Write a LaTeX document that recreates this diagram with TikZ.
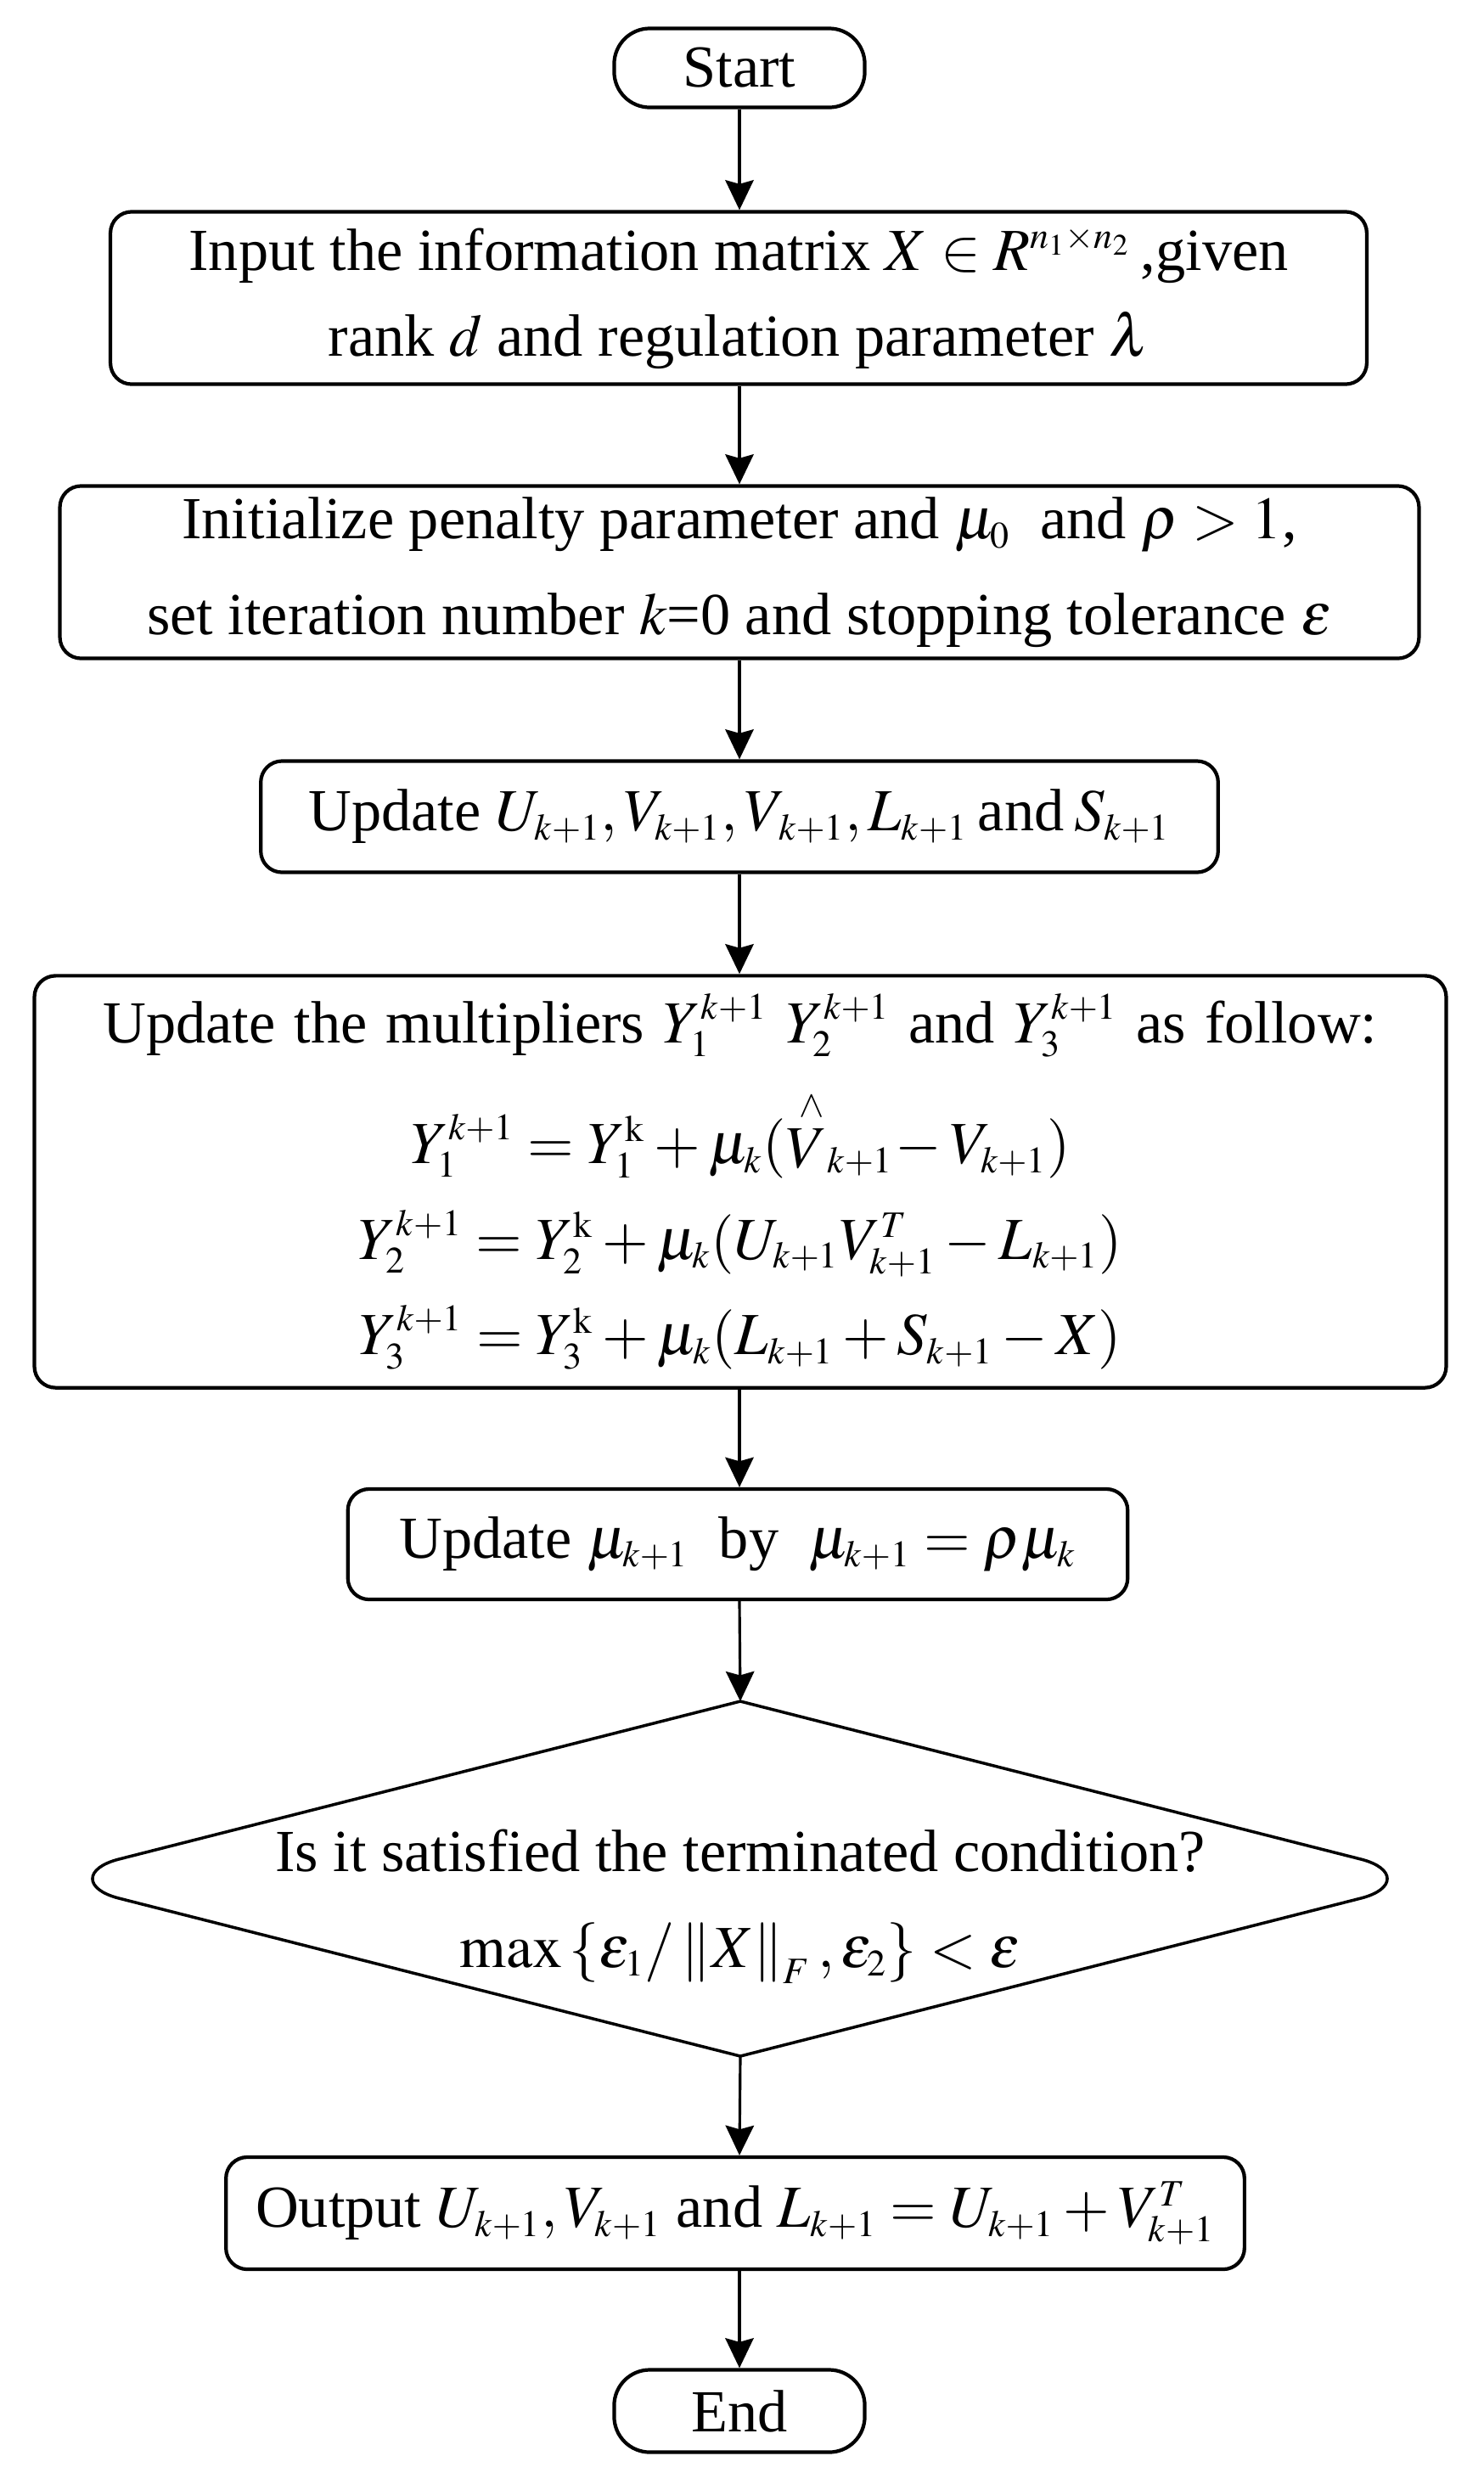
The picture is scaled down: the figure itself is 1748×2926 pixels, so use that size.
\documentclass[tikz,border=0pt]{standalone}
\usepackage{mathptmx}
\usepackage{fontspec}
\setmainfont{Liberation Serif}
\DeclareMathSizes{20}{20}{12.5}{10}
\usetikzlibrary{arrows.meta}
\begin{document}
\begin{tikzpicture}[x=0.01cm,y=-0.01cm,
  every node/.style={font=\fontsize{20}{28}\selectfont},
  box/.style={draw,line width=1.2pt,rounded corners=0.25cm,align=center,inner sep=0pt},
  term/.style={draw,line width=1.2pt,rounded corners=0.42cm,align=center,inner sep=0pt,minimum width=2.95cm},
  arr/.style={line width=0.9pt,-{Stealth[length=10pt,width=9.5pt,inset=1.3pt]}}]
\useasboundingbox (0,0) rectangle (1748,2926);
\fill[white] (0,0) rectangle (1748,2926);

\node[term,minimum height=0.93cm] (start) at (871,80) {Start};

\node[box,minimum width=14.79cm,minimum height=2.03cm] (input) at (870,351)
  {Input the information matrix $X\in R^{n_1\times n_2}$\,,given\\[1pt]
   rank $d$ and regulation parameter $\lambda$};

\node[box,minimum width=16.00cm,minimum height=2.03cm] (init) at (871,674)
  {Initialize penalty parameter and $\mu_0$ \ and $\rho>1$,\\[4pt]
   set iteration number $k$=0 and stopping tolerance $\varepsilon$};

\node[box,minimum width=11.27cm,minimum height=1.31cm] (updu) at (871,962)
  {Update $U_{k+1},V_{k+1},V_{\,k+1},L_{k+1}$\,and\,$S_{k+1}$};

\node[box,minimum width=16.62cm,minimum height=4.85cm] (mult) at (872,1392)
  {\makebox[15.0cm][s]{Update the multipliers $Y_1^{k+1}$ $Y_2^{k+1}$ and $Y_3^{k+1}$ as follow:}\\[10pt]
   $Y_1^{k+1}=Y_1^{\mathrm{k}}+\mu_k({\stackrel{\wedge}{V}}_{k+1}\!-V_{k+1})$\\[4pt]
   $Y_2^{k+1}=Y_2^{\mathrm{k}}+\mu_k(U_{k+1}V_{k+1}^T-L_{k+1})$\\[4pt]
   $Y_3^{k+1}=Y_3^{\mathrm{k}}+\mu_k(L_{k+1}+S_{k+1}-X)$};

\node[box,minimum width=9.18cm,minimum height=1.30cm] (updmu) at (869,1819)
  {Update $\mu_{k+1}$ \ by \ $\mu_{k+1}=\rho\mu_k$};

\coordinate (dt) at (872,2004);
\coordinate (db) at (872,2422);
\draw[line width=1pt] (dt) -- (1603,2190) .. controls (1644.4,2200.6) and (1644.4,2225.4) .. (1603,2236)
  -- (db) -- (140,2236) .. controls (98.6,2225.4) and (98.6,2200.6) .. (140,2190) -- cycle;
\node[align=center] (dec) at (872,2246)
  {Is it satisfied the terminated condition?\\[4pt]
   $\max\left\{\varepsilon_1/\left\|X\right\|_F,\varepsilon_2\right\}<\varepsilon$};

\node[box,minimum width=11.99cm,minimum height=1.32cm] (out) at (866,2607)
  {Output $U_{k+1},V_{k+1}$ and $L_{k+1}=U_{k+1}+V_{k+1}^T$};

\node[term,minimum height=0.97cm] (end) at (871,2840) {End};

\draw[arr] (start.south) -- (input.north -| start.south);
\draw[arr] (input.south -| start.south) -- (init.north -| start.south);
\draw[arr] (init.south -| start.south) -- (updu.north -| start.south);
\draw[arr] (updu.south -| start.south) -- (mult.north -| start.south);
\draw[arr] (mult.south -| start.south) -- (updmu.north -| start.south);
\draw[arr] (updmu.south -| start.south) -- (dt);
\draw[arr] (db) -- (out.north -| start.south);
\draw[arr] (out.south -| start.south) -- (end.north);
\end{tikzpicture}
\end{document}
